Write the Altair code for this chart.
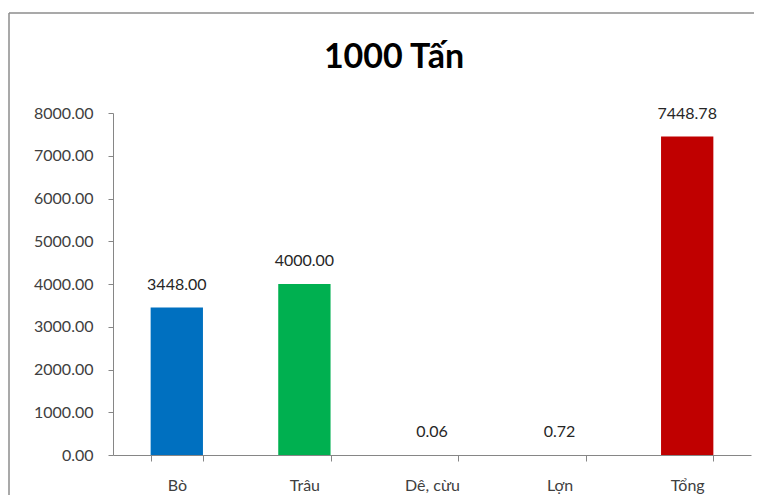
import altair as alt
import pandas as pd

categories = ["Bò", "Trâu", "Dê, cừu", "Lợn", "Tổng"]
values = [3448.00, 4000.00, 0.06, 0.72, 7448.78]
colors = ["#0070C0", "#00B050", "#7030A0", "#FFC000", "#C00000"]
y_ticks = [0, 1000, 2000, 3000, 4000, 5000, 6000, 7000, 8000]

df = pd.DataFrame({"cat": categories, "val": values, "color": colors})

FONT = "Lato"

base = alt.Chart(df)

bars = base.mark_bar().encode(
    x=alt.X("cat:N", sort=categories, title=None,
            scale=alt.Scale(paddingInner=0.59, paddingOuter=0.295),
            axis=alt.Axis(labelAngle=0, labelFontSize=16, labelColor="#404040",
                          labelFont=FONT, domainColor="#868686", tickColor="#868686",
                          tickSize=6, labelPadding=16, tickBand="extent", grid=False)),
    y=alt.Y("val:Q", title=None,
            scale=alt.Scale(domain=[0, 8000], nice=False),
            axis=alt.Axis(values=y_ticks, format=".2f", labelFontSize=16,
                          labelColor="#404040", labelFont=FONT,
                          domainColor="#868686", tickColor="#868686",
                          tickSize=5, labelPadding=15, grid=False)),
    color=alt.Color("color:N", scale=None),
)

labels = base.mark_text(baseline="bottom", dy=-15, fontSize=16, font=FONT,
                        color="#262626").encode(
    x=alt.X("cat:N", sort=categories),
    y=alt.Y("val:Q"),
    text=alt.Text("val:Q", format=".2f"),
)

one = alt.Data(values=[{"a": 1}])
frame_left = alt.Chart(one).mark_rule(color="#8c8c8c", strokeWidth=1.5).encode(
    x=alt.value(-104), y=alt.value(-100), y2=alt.value(383),
)
frame_top = alt.Chart(one).mark_rule(color="#8c8c8c", strokeWidth=1.5).encode(
    x=alt.value(-104), x2=alt.value(641), y=alt.value(-100),
)

chart = alt.layer(frame_left, frame_top, bars, labels).properties(
    width=638,
    height=342,
    background="white",
    title=alt.TitleParams("1000 Tấn", font=FONT, fontSize=34, fontWeight="bold",
                          color="#000000", anchor="middle", dx=-38, offset=-63),
    autosize=alt.AutoSizeParams(type="none"),
    padding={"left": 105, "top": 105, "right": 3, "bottom": 40},
).configure_view(stroke=None, strokeWidth=0)

chart.save("out.html", embed_options={"renderer": "svg", "actions": False})
